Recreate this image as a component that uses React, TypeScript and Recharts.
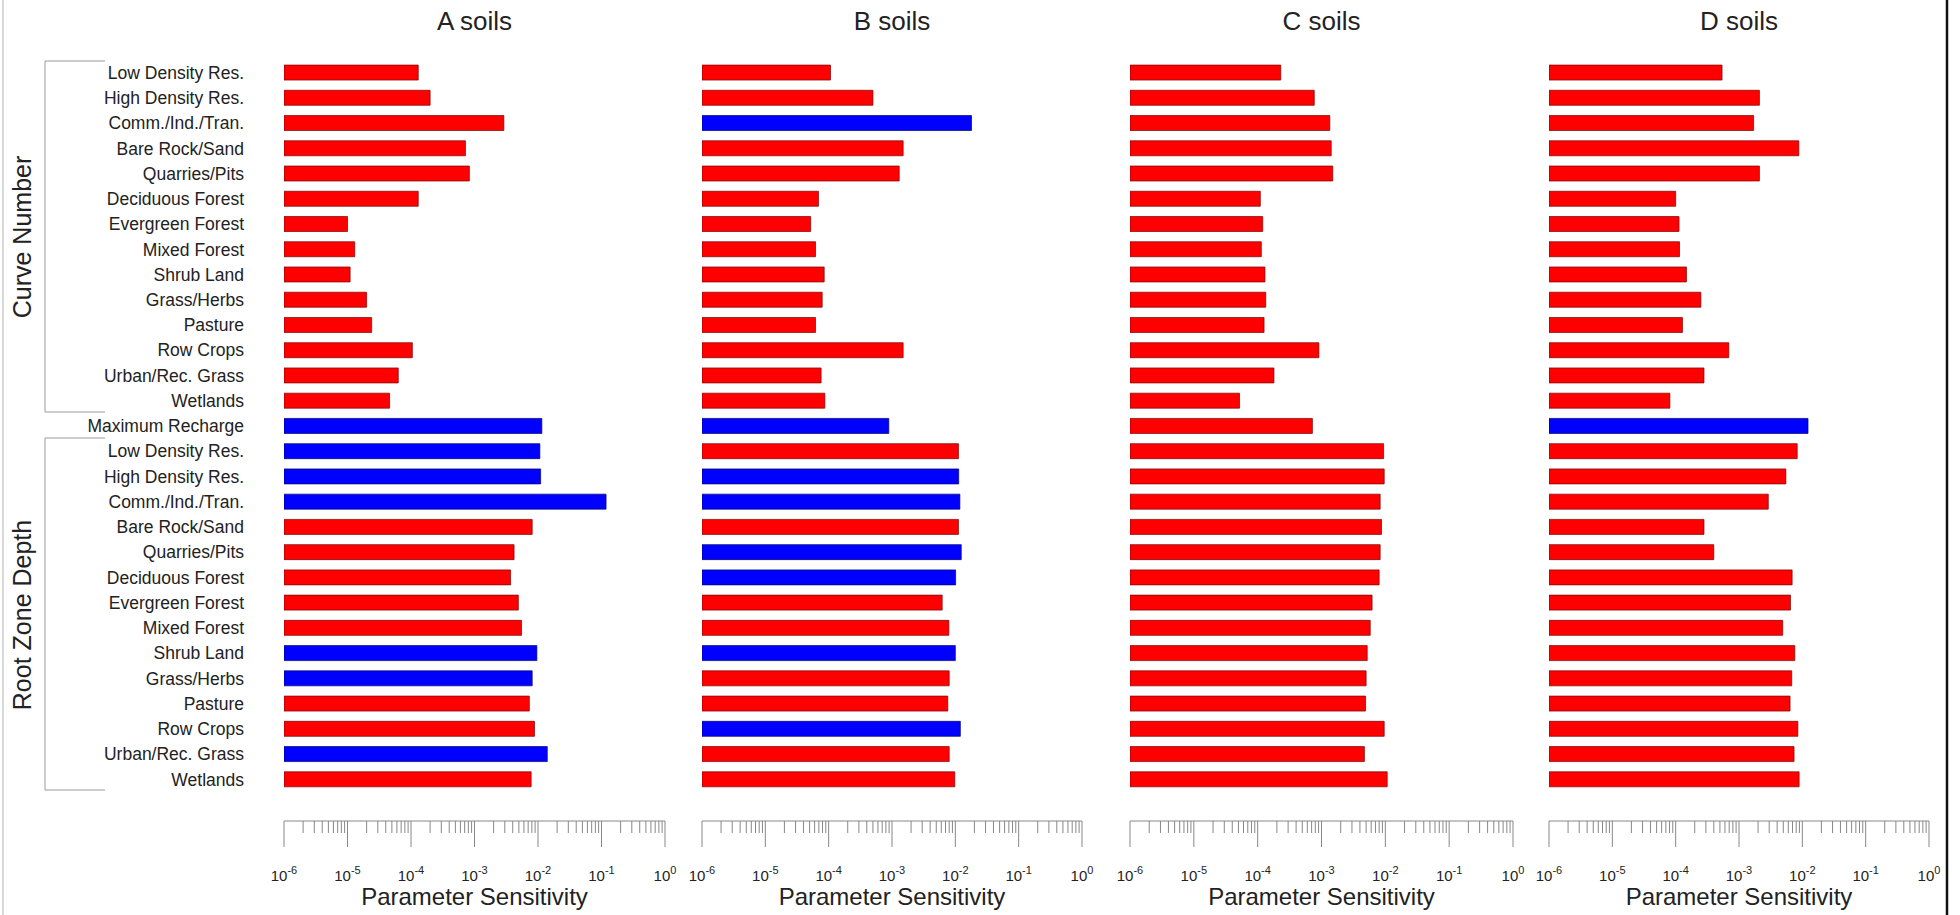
import React from "react";
import { BarChart, Bar, XAxis, YAxis, Cell } from "recharts";

// land use classes, repeated for both parameter groups
const landUses = [
  "Low Density Res.",
  "High Density Res.",
  "Comm./Ind./Tran.",
  "Bare Rock/Sand",
  "Quarries/Pits",
  "Deciduous Forest",
  "Evergreen Forest",
  "Mixed Forest",
  "Shrub Land",
  "Grass/Herbs",
  "Pasture",
  "Row Crops",
  "Urban/Rec. Grass",
  "Wetlands",
];
const rowLabels = [...landUses, "Maximum Recharge", ...landUses];
const groupLabels = ["Curve Number", "Root Zone Depth"];
const panelTitles = ["A soils", "B soils", "C soils", "D soils"];

// sensitivities; negative = blue bar
const aValues = [
  1.3e-4, 2.0e-4, 2.9e-3, 7.2e-4, 8.3e-4, 1.3e-4, 1.0e-5, 1.3e-5, 1.1e-5, 2.0e-5, 2.4e-5, 1.05e-4, 6.3e-5, 4.6e-5,
  -1.15e-2,
  -1.07e-2, -1.1e-2, -0.118, 8.1e-3, 4.2e-3, 3.7e-3, 4.9e-3, 5.5e-3, -9.6e-3, -8.1e-3, 7.3e-3, 8.8e-3, -1.4e-2, 7.8e-3,
];
const bValues = [
  1.07e-4, 5.0e-4, -1.8e-2, 1.5e-3, 1.3e-3, 6.9e-5, 5.2e-5, 6.2e-5, 8.5e-5, 7.9e-5, 6.2e-5, 1.5e-3, 7.6e-5, 8.7e-5,
  -8.9e-4,
  1.12e-2, -1.13e-2, -1.18e-2, 1.12e-2, -1.24e-2, -1.01e-2, 6.2e-3, 7.9e-3, -1.0e-2, 8.0e-3, 7.6e-3, -1.2e-2, 8.0e-3, 9.8e-3,
];
const cValues = [
  2.3e-4, 7.7e-4, 1.35e-3, 1.42e-3, 1.5e-3, 1.1e-4, 1.2e-4, 1.14e-4, 1.3e-4, 1.34e-4, 1.26e-4, 9.1e-4, 1.8e-4, 5.2e-5,
  7.2e-4,
  9.4e-3, 9.6e-3, 8.3e-3, 8.7e-3, 8.3e-3, 8.0e-3, 6.2e-3, 5.8e-3, 5.2e-3, 5.0e-3, 4.9e-3, 9.6e-3, 4.7e-3, 1.07e-2,
];
const dValues = [
  5.4e-4, 2.1e-3, 1.7e-3, 8.8e-3, 2.1e-3, 1.0e-4, 1.13e-4, 1.15e-4, 1.48e-4, 2.5e-4, 1.28e-4, 6.9e-4, 2.8e-4, 8.1e-5,
  -1.23e-2,
  8.3e-3, 5.5e-3, 2.9e-3, 2.8e-4, 4.0e-4, 6.9e-3, 6.5e-3, 4.9e-3, 7.6e-3, 6.8e-3, 6.4e-3, 8.5e-3, 7.4e-3, 8.9e-3,
];

// log axis ticks
const decadeTicks = [1e-6, 1e-5, 1e-4, 1e-3, 1e-2, 1e-1, 1];
const decadeExponents = ["-6", "-5", "-4", "-3", "-2", "-1", "0"];
const minorSteps = [2, 3, 4, 5, 6, 7, 8, 9];

const allTicks = [
  ...decadeTicks,
  ...decadeTicks.slice(0, -1).flatMap((d) => minorSteps.map((m) => d * m)),
].sort((p, q) => p - q);

const FONT = "'Liberation Sans', Arial, sans-serif";
const RED = "#ff0000";
const BLUE = "#0000ff";

const buildData = (values: number[]) =>
  rowLabels.map((label, i) => ({
    row: i,
    label,
    value: Math.abs(values[i]),
    neg: values[i] < 0,
  }));

const LogTick = (props: any) => {
  const { x, y, payload } = props;
  const v = payload.value;
  const idx = decadeTicks.findIndex((d) => Math.abs(v / d - 1) < 1e-6);
  const major = idx >= 0;
  return (
    <g>
      <line x1={x} x2={x} y1={y} y2={y + (major ? 26 : 12)} stroke="#888" strokeWidth={1} />
      {major && (
        <text x={x} y={y + 60} textAnchor="middle" fontSize={15} fill="#222" fontFamily={FONT}>
          10
          <tspan dy={-7} fontSize={11}>
            {decadeExponents[idx]}
          </tspan>
        </text>
      )}
    </g>
  );
};

type PanelProps = {
  values: number[];
  left: number;
  width: number;
  showLabels?: boolean;
};

const Panel = ({ values, left, width, showLabels }: PanelProps) => {
  const data = buildData(values);
  return (
    <div style={{ position: "absolute", left, top: 0 }}>
      <BarChart
        width={width}
        height={915}
        data={data}
        layout="vertical"
        barCategoryGap="20%"
        margin={{ top: 60, right: 20, bottom: 0, left: showLabels ? 0 : 20 }}
      >
        <XAxis
          type="number"
          scale="log"
          domain={[1e-6, 1]}
          allowDataOverflow
          ticks={allTicks}
          interval={0}
          tick={<LogTick />}
          tickLine={false}
          tickSize={0}
          tickMargin={0}
          axisLine={{ stroke: "#888", strokeWidth: 1 }}
          height={94}
          label={{
            value: "Parameter Sensitivity",
            position: "insideBottom",
            offset: 10,
            fontSize: 24,
            fill: "#222",
            fontFamily: FONT,
          }}
        />
        <YAxis
          type="category"
          dataKey="row"
          hide={!showLabels}
          width={showLabels ? 284 : 0}
          axisLine={false}
          tickLine={false}
          tickSize={0}
          tickMargin={40}
          interval={0}
          padding={{ top: 0, bottom: 29 }}
          tickFormatter={(v: number) => rowLabels[v]}
          tick={{ fontSize: 17.5, fill: "#222", fontFamily: FONT }}
        />
        <Bar dataKey="value" isAnimationActive={false} strokeWidth={0.7}>
          {data.map((d) => (
            <Cell key={d.row} fill={d.neg ? BLUE : RED} stroke={d.neg ? "#00006e" : "#7a0000"} />
          ))}
        </Bar>
      </BarChart>
    </div>
  );
};

const panelCenters = [474.5, 892, 1321.5, 1739];

export default function App() {
  return (
    <div
      style={{
        position: "fixed",
        left: 0,
        top: 0,
        width: 1960,
        height: 915,
        background: "#fff",
        fontFamily: FONT,
      }}
    >
      <Panel values={aValues} left={0} width={685} showLabels />
      <Panel values={bValues} left={682} width={420} />
      <Panel values={cValues} left={1110} width={423} />
      <Panel values={dValues} left={1529} width={420} />

      <svg
        width={1960}
        height={915}
        style={{ position: "absolute", left: 0, top: 0, pointerEvents: "none" }}
      >
        {panelTitles.map((t, i) => (
          <text key={t} x={panelCenters[i]} y={30} textAnchor="middle" fontSize={26} fill="#222" fontFamily={FONT}>
            {t}
          </text>
        ))}
        {/* group brackets */}
        <polyline points="105,61 45,61 45,412 105,412" fill="none" stroke="#999" strokeWidth={1} />
        <polyline points="105,438 45,438 45,790 105,790" fill="none" stroke="#999" strokeWidth={1} />
        <text
          x={22}
          y={237}
          transform="rotate(-90 22 237)"
          textAnchor="middle"
          dominantBaseline="central"
          fontSize={25}
          fill="#222"
          fontFamily={FONT}
        >
          {groupLabels[0]}
        </text>
        <text
          x={22}
          y={615}
          transform="rotate(-90 22 615)"
          textAnchor="middle"
          dominantBaseline="central"
          fontSize={25}
          fill="#222"
          fontFamily={FONT}
        >
          {groupLabels[1]}
        </text>
        {/* frame edges */}
        <line x1={3} x2={3} y1={0} y2={915} stroke="#ccc" strokeWidth={1.5} />
        <line x1={1947} x2={1947} y1={0} y2={915} stroke="#111" strokeWidth={2.5} />
      </svg>
    </div>
  );
}
